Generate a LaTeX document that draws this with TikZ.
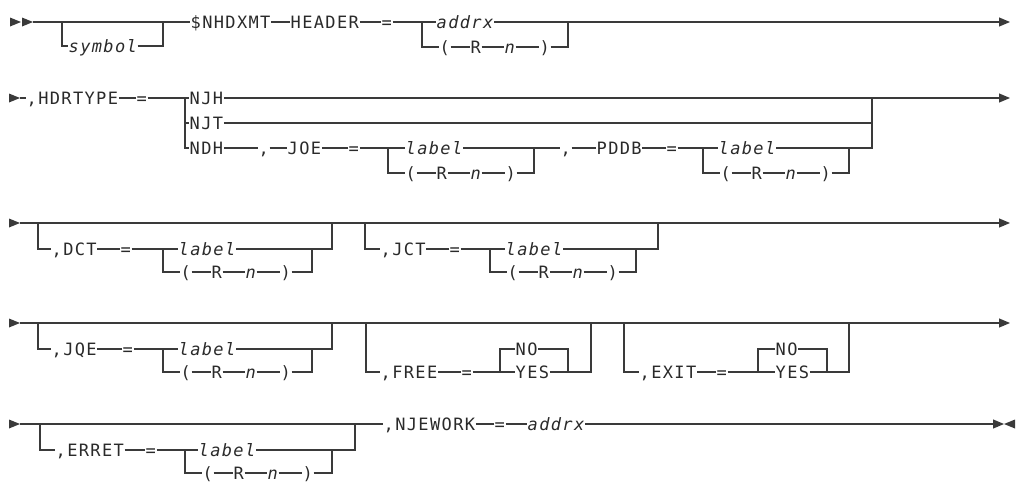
\documentclass[tikz,border=0pt]{standalone}
\usepackage{fontspec}
\newfontfamily\rrfont{DejaVu Sans Mono}[LetterSpace=8]
\usetikzlibrary{arrows.meta}
\definecolor{ln}{HTML}{3a3a3a}
\definecolor{tx}{HTML}{2a2a2a}
\tikzset{
 rr/.style={draw=ln,line width=1.1pt},
 txt/.style={anchor=west,inner xsep=0.5pt,inner ysep=0pt,text height=12.4pt,text depth=0pt,font=\fontsize{17}{17}\rrfont,text=tx},
 it/.style={font=\fontsize{17}{17}\rrfont\itshape},
 endarr/.style={-{Triangle[length=11pt,width=9pt]}},
}
\newcommand\RN[3]{%
 \node[txt] (#1o) at (#2+17,#3) {(};
 \node[txt] (#1r) at (#2+48,#3) {R};
 \node[txt,it] (#1n) at (#2+82,#3) {n};
 \node[txt] (#1c) at (#2+117,#3) {)};
 \draw[rr] (#1o.east) -- (#1r.west);
 \draw[rr] (#1r.east) -- (#1n.west);
 \draw[rr] (#1n.east) -- (#1c.west);
}
\begin{document}
\begin{tikzpicture}[x=1pt,y=-1pt]
\useasboundingbox (0,0) rectangle (1018,483);
% ---------- Row 1
\fill[ln] (10,17.5)--(21,22)--(10,26.5)--cycle;
\fill[ln] (22,17.5)--(33,22)--(22,26.5)--cycle;
\coordinate (s1) at (33,22);
\coordinate (o1L) at (62,22); \coordinate (o1R) at (163,22);
\node[txt,it] (sym) at (68,46) {symbol};
\node[txt] (nhd) at (190,22) {\$NHDXMT};
\node[txt] (hdr) at (290,22) {HEADER};
\node[txt] (eq1) at (381,22) {=};
\coordinate (c1L) at (422,22); \coordinate (c1R) at (568,22);
\node[txt,it] (ad1) at (436,22) {addrx};
\RN{r1}{422}{47}
\coordinate (e1) at (1010,22);
\draw[rr] (s1) -- (nhd.west);
\draw[rr] (o1L) |- (sym.west);
\draw[rr] (sym.east) -| (o1R);
\draw[rr] (nhd.east) -- (hdr.west);
\draw[rr] (hdr.east) -- (eq1.west);
\draw[rr] (eq1.east) -- (ad1.west);
\draw[rr,endarr] (ad1.east) -- (e1);
\draw[rr] (c1L) |- (r1o.west);
\draw[rr] (r1c.east) -| (c1R);
% ---------- Row 2
\fill[ln] (9,93.5)--(20,98)--(9,102.5)--cycle;
\coordinate (s2) at (20,98);
\node[txt] (hdt) at (26,98) {,HDRTYPE};
\node[txt] (eq2) at (136,98) {=};
\coordinate (c2L) at (185,98); \coordinate (c2R) at (872,98);
\node[txt] (njh) at (189,98) {NJH};
\node[txt] (njt) at (189,123) {NJT};
\node[txt] (ndh) at (189,148) {NDH};
\node[txt] (cm2a) at (258,148) {,};
\node[txt] (joe) at (287,148) {JOE};
\node[txt] (eq2a) at (348,148) {=};
\coordinate (j2L) at (388,148); \coordinate (j2R) at (534,148);
\node[txt,it] (lb2a) at (405,148) {label};
\RN{r2a}{388}{173}
\node[txt] (cm2b) at (560,148) {,};
\node[txt] (pddb) at (596,148) {PDDB};
\node[txt] (eq2b) at (666,148) {=};
\coordinate (p2L) at (703,148); \coordinate (p2R) at (849,148);
\node[txt,it] (lb2b) at (718,148) {label};
\RN{r2b}{703}{173}
\coordinate (e2) at (1010,98);
\draw[rr] (s2) -- (hdt.west);
\draw[rr] (hdt.east) -- (eq2.west);
\draw[rr] (eq2.east) -- (njh.west);
\draw[rr] (c2L) |- (njt.west);
\draw[rr] (c2L) |- (ndh.west);
\draw[rr,endarr] (njh.east) -- (e2);
\draw[rr] (njt.east) -| (c2R);
\draw[rr] (ndh.east) -- (cm2a.west);
\draw[rr] (cm2a.east) -- (joe.west);
\draw[rr] (joe.east) -- (eq2a.west);
\draw[rr] (eq2a.east) -- (lb2a.west);
\draw[rr] (lb2a.east) -- (cm2b.west);
\draw[rr] (j2L) |- (r2ao.west);
\draw[rr] (r2ac.east) -| (j2R);
\draw[rr] (cm2b.east) -- (pddb.west);
\draw[rr] (pddb.east) -- (eq2b.west);
\draw[rr] (eq2b.east) -- (lb2b.west);
\draw[rr] (lb2b.east) -| (c2R);
\draw[rr] (p2L) |- (r2bo.west);
\draw[rr] (r2bc.east) -| (p2R);
% ---------- Row 3
\fill[ln] (9,218.5)--(20,223)--(9,227.5)--cycle;
\coordinate (s3) at (20,223); \coordinate (e3) at (1010,223);
\draw[rr,endarr] (s3) -- (e3);
\coordinate (d3L) at (38,223); \coordinate (d3R) at (332,223);
\node[txt] (dct) at (51,249) {,DCT};
\node[txt] (eq3a) at (120,249) {=};
\coordinate (d3iL) at (163,249); \coordinate (d3iR) at (312,249);
\node[txt,it] (lb3a) at (178,249) {label};
\RN{r3a}{163}{272}
\draw[rr] (d3L) |- (dct.west);
\draw[rr] (dct.east) -- (eq3a.west);
\draw[rr] (eq3a.east) -- (lb3a.west);
\draw[rr] (lb3a.east) -| (d3R);
\draw[rr] (d3iL) |- (r3ao.west);
\draw[rr] (r3ac.east) -| (d3iR);
\coordinate (j3L) at (365,223); \coordinate (j3R) at (658,223);
\node[txt] (jct) at (380,249) {,JCT};
\node[txt] (eq3b) at (449,249) {=};
\coordinate (j3iL) at (490,249); \coordinate (j3iR) at (636,249);
\node[txt,it] (lb3b) at (505,249) {label};
\RN{r3b}{490}{272}
\draw[rr] (j3L) |- (jct.west);
\draw[rr] (jct.east) -- (eq3b.west);
\draw[rr] (eq3b.east) -- (lb3b.west);
\draw[rr] (lb3b.east) -| (j3R);
\draw[rr] (j3iL) |- (r3bo.west);
\draw[rr] (r3bc.east) -| (j3iR);
% ---------- Row 4
\fill[ln] (9,318.5)--(20,323)--(9,327.5)--cycle;
\coordinate (s4) at (20,323); \coordinate (e4) at (1010,323);
\draw[rr,endarr] (s4) -- (e4);
\coordinate (q4L) at (38,323); \coordinate (q4R) at (332,323);
\node[txt] (jqe) at (51,349) {,JQE};
\node[txt] (eq4a) at (122,349) {=};
\coordinate (q4iL) at (163,349); \coordinate (q4iR) at (312,349);
\node[txt,it] (lb4) at (178,349) {label};
\RN{r4}{163}{372}
\draw[rr] (q4L) |- (jqe.west);
\draw[rr] (jqe.east) -- (eq4a.west);
\draw[rr] (eq4a.east) -- (lb4.west);
\draw[rr] (lb4.east) -| (q4R);
\draw[rr] (q4iL) |- (r4o.west);
\draw[rr] (r4c.east) -| (q4iR);
\coordinate (f4L) at (366,323); \coordinate (f4R) at (591,323);
\node[txt] (free) at (380,372) {,FREE};
\node[txt] (eq4b) at (461,372) {=};
\coordinate (f4iL) at (500,372); \coordinate (f4iR) at (568,372);
\node[txt] (no1) at (515,349) {NO};
\node[txt] (yes1) at (515,372) {YES};
\draw[rr] (f4L) |- (free.west);
\draw[rr] (free.east) -- (eq4b.west);
\draw[rr] (eq4b.east) -- (yes1.west);
\draw[rr] (f4iL) |- (no1.west);
\draw[rr] (no1.east) -| (f4iR);
\draw[rr] (yes1.east) -| (f4R);
\coordinate (x4L) at (624,323); \coordinate (x4R) at (849,323);
\node[txt] (exit) at (639,372) {,EXIT};
\node[txt] (eq4c) at (716,372) {=};
\coordinate (x4iL) at (758,372); \coordinate (x4iR) at (827,372);
\node[txt] (no2) at (775,349) {NO};
\node[txt] (yes2) at (775,372) {YES};
\draw[rr] (x4L) |- (exit.west);
\draw[rr] (exit.east) -- (eq4c.west);
\draw[rr] (eq4c.east) -- (yes2.west);
\draw[rr] (x4iL) |- (no2.west);
\draw[rr] (no2.east) -| (x4iR);
\draw[rr] (yes2.east) -| (x4R);
% ---------- Row 5
\fill[ln] (9,419.5)--(20,424)--(9,428.5)--cycle;
\coordinate (s5) at (20,424); \coordinate (e5) at (1004,424);
\coordinate (er5L) at (40,424); \coordinate (er5R) at (355,424);
\node[txt] (errt) at (55,450) {,ERRET};
\node[txt] (eq5a) at (145,450) {=};
\coordinate (er5iL) at (185,450); \coordinate (er5iR) at (332,450);
\node[txt,it] (lb5) at (198,450) {label};
\RN{r5}{185}{473}
\node[txt] (njw) at (383,424) {,NJEWORK};
\node[txt] (eq5b) at (494,424) {=};
\node[txt,it] (ad5) at (527,424) {addrx};
\draw[rr] (s5) -- (njw.west);
\draw[rr] (er5L) |- (errt.west);
\draw[rr] (errt.east) -- (eq5a.west);
\draw[rr] (eq5a.east) -- (lb5.west);
\draw[rr] (lb5.east) -| (er5R);
\draw[rr] (er5iL) |- (r5o.west);
\draw[rr] (r5c.east) -| (er5iR);
\draw[rr] (njw.east) -- (eq5b.west);
\draw[rr] (eq5b.east) -- (ad5.west);
\draw[rr,endarr] (ad5.east) -- (e5);
\fill[ln] (1015,419.5)--(1004,424)--(1015,428.5)--cycle;
\end{tikzpicture}
\end{document}
